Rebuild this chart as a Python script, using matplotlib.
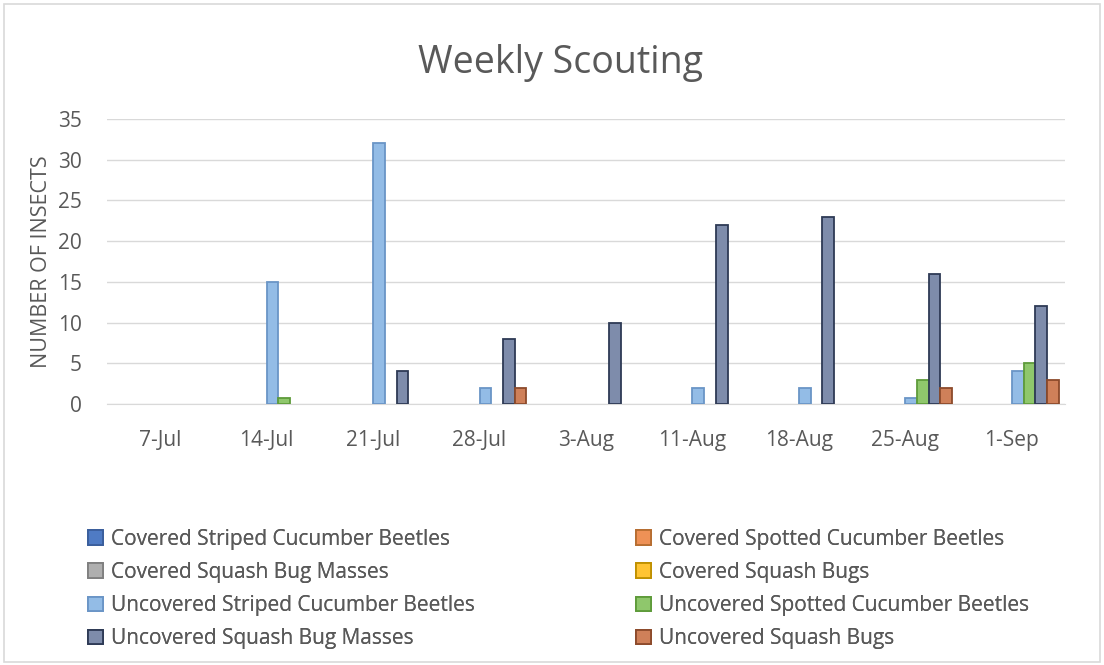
import matplotlib.pyplot as plt
import numpy as np
from matplotlib.patches import Rectangle

plt.rcParams['font.family'] = ['Open Sans', 'DejaVu Sans']

weeks = ['7-Jul', '14-Jul', '21-Jul', '28-Jul', '3-Aug', '11-Aug', '18-Aug', '25-Aug', '1-Sep']
series_names = ['Covered Striped Cucumber Beetles', 'Covered Spotted Cucumber Beetles',
                'Covered Squash Bug Masses', 'Covered Squash Bugs',
                'Uncovered Striped Cucumber Beetles', 'Uncovered Spotted Cucumber Beetles',
                'Uncovered Squash Bug Masses', 'Uncovered Squash Bugs']

cov_striped = [0, 0, 0, 0, 0, 0, 0, 0, 0]
cov_spotted = [0, 0, 0, 0, 0, 0, 0, 0, 0]
cov_masses = [0, 0, 0, 0, 0, 0, 0, 0, 0]
cov_bugs = [0, 0, 0, 0, 0, 0, 0, 0, 0]
unc_striped = [0, 15, 32, 2, 0, 2, 2, 0.7, 4]
unc_spotted = [0, 0.7, 0, 0, 0, 0, 0, 3, 5]
unc_masses = [0, 0, 4, 8, 10, 22, 23, 16, 12]
unc_bugs = [0, 0, 0, 2, 0, 0, 0, 2, 3]
series = [cov_striped, cov_spotted, cov_masses, cov_bugs,
          unc_striped, unc_spotted, unc_masses, unc_bugs]

fills = ['#4F7BC4', '#EE9156', '#AFAFAF', '#FFC433',
         '#93BCE6', '#8FC76C', '#7E8CAB', '#CF8059']
edges = ['#3A5E9C', '#B66D31', '#7F7F7F', '#BF9000',
         '#6A95C6', '#5E9B3A', '#2E3A55', '#8C4A2B']
grey = '#595959'

fig = plt.figure(figsize=(11.04, 6.65), dpi=100)
fig.patches.append(Rectangle((0.004, 0.004), 0.992, 0.99, transform=fig.transFigure,
                             fill=False, edgecolor='#D9D9D9', lw=1.2))
ax = fig.add_axes([0.0969, 0.3925, 0.8678, 0.4285])

x = np.arange(len(weeks))
w = 0.11
handles = []
for i, vals in enumerate(series):
    v = np.array(vals, dtype=float)
    v[v == 0] = np.nan  # Excel draws nothing for zero
    b = ax.bar(x + (i - 4) * w, v, w, align='edge',
               color=fills[i], edgecolor=edges[i], linewidth=1.3, zorder=3)
    handles.append(b)

ax.set_xlim(-0.5, len(weeks) - 0.5)
ax.set_ylim(0, 35)
ax.set_yticks(range(0, 36, 5))
ax.set_xticks(x)
ax.set_xticklabels(weeks)
ax.grid(axis='y', color='#D9D9D9', lw=1, zorder=0)
for s in ['top', 'right', 'left']:
    ax.spines[s].set_visible(False)
ax.spines['bottom'].set_color('#D9D9D9')
ax.tick_params(length=0, colors=grey, labelsize=15)
ax.tick_params(axis='x', pad=19)
ax.tick_params(axis='y', pad=18)
ax.set_ylabel('NUMBER OF INSECTS', color=grey, fontsize=15.5, labelpad=4)

fig.text(0.508, 0.905, 'Weekly Scouting', ha='center', va='center',
         fontsize=27, color=grey)

for col, x0 in [(0, 88), (1, 636)]:
    idx = [col, col + 2, col + 4, col + 6]
    leg = fig.legend([handles[i] for i in idx], [series_names[i] for i in idx],
                     loc='upper left', bbox_to_anchor=(x0 / 1104, 1 - 529 / 665),
                     frameon=False, fontsize=15, labelcolor=grey,
                     handlelength=0.7, handleheight=0.7, handletextpad=0.4,
                     labelspacing=0.58, borderpad=0, borderaxespad=0)
    fig.add_artist(leg)

fig.savefig('out.png', dpi=100)
